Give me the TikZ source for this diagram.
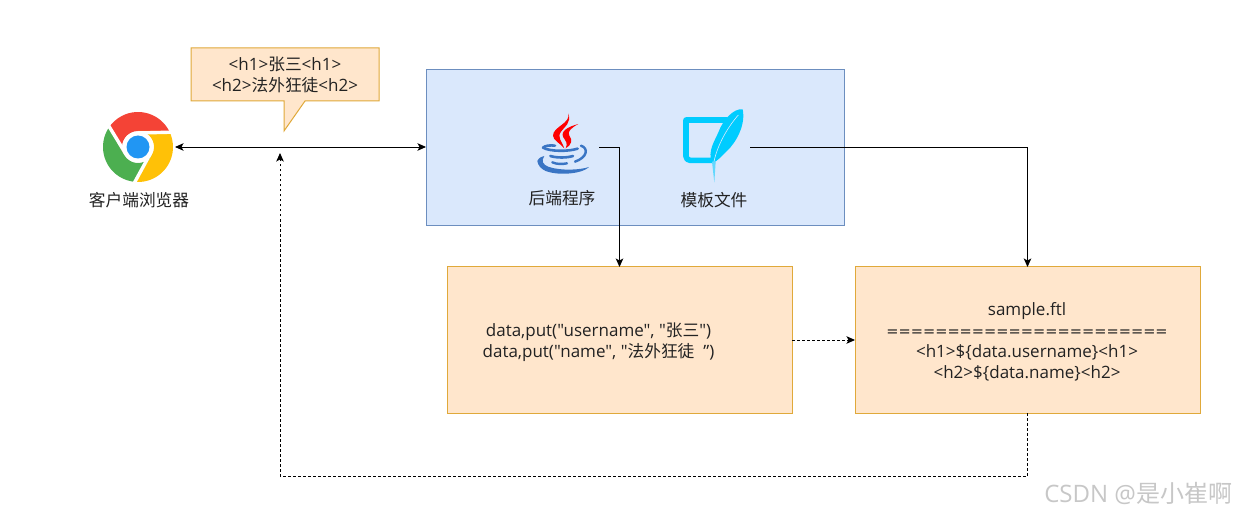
\documentclass[tikz,border=0pt]{standalone}
\usepackage{fontspec}
\newfontfamily\latinf{Open Sans}
\newfontfamily\cjk{Noto Sans CJK SC}
\newfontfamily\eqfont{DejaVu Sans}
\newcommand{\zh}[1]{{\cjk\fontsize{16.7}{21}\selectfont #1}}
\usetikzlibrary{arrows.meta}
\definecolor{orfill}{HTML}{FFE6CC}
\definecolor{orline}{HTML}{E0A93A}
\definecolor{blfill}{HTML}{DAE8FC}
\definecolor{blline}{HTML}{6C8EBF}
\definecolor{featherc}{HTML}{00CCFF}
\definecolor{javablue}{HTML}{3A75C4}
\definecolor{chromered}{HTML}{F44336}
\definecolor{chromegreen}{HTML}{4CAF50}
\definecolor{chromeyellow}{HTML}{FFC107}
\definecolor{chromeblue}{HTML}{2196F3}
\definecolor{txt}{HTML}{222222}
\tikzset{
  x=1pt,y=-1pt,
  every node/.style={font=\latinf\fontsize{17}{21}\selectfont,text=txt,inner sep=0pt,outer sep=0pt},
  panel/.style={draw=orline,fill=orfill,line width=1pt,anchor=north west},
  bluepanel/.style={draw=blline,fill=blfill,line width=.8pt,anchor=north west},
  icon/.style={minimum width=#1,minimum height=40pt},
  conn/.style={draw=black,line width=.9pt,-{Stealth[length=8.5pt,width=7.5pt,inset=2pt]}},
  dconn/.style={conn,dash pattern=on 2.5pt off 2.5pt},
  label/.style={align=center},
}
\begin{document}
\begin{tikzpicture}
\useasboundingbox (0,0) rectangle (1235,513);
\fill[white] (0,0) rectangle (1235,513);
% panels
\node[bluepanel,minimum width=418pt,minimum height=156pt] (backend) at (426,69) {};
\node[panel,minimum width=345pt,minimum height=146pt] (databox) at (447,267) {};
\node[panel,minimum width=345pt,minimum height=146pt] (sample) at (855,267) {};
% callout
\filldraw[orline,fill=orfill,line width=1pt,line join=miter] (191,48) -- (379,48) -- (379,101) -- (305,101) -- (284,131) -- (284,101) -- (191,101) -- cycle;
\node[label] (bubble) at (285,75) {<h1>\zh{张三}<h1>\\<h2>\zh{法外狂徒}<h2>};
% chrome icon
\begin{scope}[shift={(138,147)},y=1pt]
  \def\ro{35}\def\ri{16}
  \fill[chromered] (27.2:\ro) arc[start angle=27.2,end angle=147.2,radius=\ro] -- (210:\ri) arc[start angle=210,end angle=90,radius=\ri] -- cycle;
  \fill[chromegreen] (147.2:\ro) arc[start angle=147.2,end angle=267.2,radius=\ro] -- (330:\ri) arc[start angle=330,end angle=210,radius=\ri] -- cycle;
  \fill[chromeyellow] (267.2:\ro) arc[start angle=267.2,end angle=387.2,radius=\ro] -- (90:\ri) arc[start angle=90,end angle=-30,radius=\ri] -- cycle;
  \draw[white,line width=3.4pt] (23.6:\ro+2) -- (90:14) (143.6:\ro+2) -- (210:14) (263.6:\ro+2) -- (330:14);
  \fill[white] (0,0) circle[radius=15.5];
  \fill[chromeblue] (0,0) circle[radius=11.5];
\end{scope}
\node[icon=74pt] (chrome) at (138,147) {};
\node[label] (chromelabel) at (139,200) {\zh{客户端浏览器}};
% java icon (coordinates at 3x from 525,105)
\begin{scope}[shift={(525,105)},x=.3333pt,y=-.3333pt]
  \fill[red] (130,25) .. controls (138,55) and (84,65) .. (84,92) .. controls (84,105) and (105,115) .. (118,130) .. controls (112,110) and (95,98) .. (108,80) .. controls (118,65) and (140,55) .. (130,25) -- cycle;
  \fill[red] (160,57) .. controls (130,65) and (105,78) .. (115,97) .. controls (121,107) and (130,115) .. (122,130) .. controls (140,120) and (143,105) .. (133,92) .. controls (125,80) and (140,68) .. (160,57) -- cycle;
  \begin{scope}[javablue,line cap=round]
    \draw[line width=2.6pt] (54,128) .. controls (60,122) and (75,120) .. (90,122);
    \draw[line width=2.6pt] (54,128) .. controls (75,140) and (130,140) .. (158,131);
    \draw[line width=2.6pt] (76,153) .. controls (95,159) and (125,159) .. (144,153);
    \draw[line width=2.4pt] (82,172) .. controls (95,178) and (112,178) .. (126,175);
    \draw[line width=2.4pt] (168,122) .. controls (192,130) and (186,158) .. (150,170);
    \fill (37,168) .. controls (42,158) and (50,154) .. (58,153) .. controls (48,168) and (52,178) .. (72,186) .. controls (110,198) and (165,195) .. (192,186) .. controls (175,205) and (105,214) .. (62,198) .. controls (48,192) and (38,180) .. (37,168) -- cycle;
  \end{scope}
\end{scope}
\node[icon=64pt] (java) at (567,147) {};
\node[label] (javalabel) at (562,198) {\zh{后端程序}};
% feather icon (coordinates at 3x from 670,100)
\begin{scope}[shift={(670,100)},x=.3333pt,y=-.3333pt]
  \draw[featherc,line width=5.6pt,line join=round] (172,60) -- (48,60) [rounded corners=4pt] -- (48,181) -- (135,181);
  \fill[featherc] (218,28) .. controls (190,24) and (158,62) .. (146,95) .. controls (133,125) and (112,155) .. (126,187) .. controls (135,190) and (152,172) .. (172,152) .. controls (198,127) and (228,75) .. (218,28) -- cycle;
  \draw[blfill,line width=.6pt] (205,45) .. controls (170,85) and (140,140) .. (131,190);
  \fill[featherc!55!blfill] (126,185) -- (133,248) -- (137,185) -- cycle;
\end{scope}
\node[icon=74pt] (feather) at (713,147) {};
\node[label] (featherlabel) at (714,200) {\zh{模板文件}};
% box text
\node[label] (datatext) at (598.5,342) {data,put("username", "\zh{张三}")\\data,put("name", "\zh{法外狂徒}\hspace{9pt}”)};
\node[label] (sampletext) at (1027,341.5) {sample.ftl\\{\eqfont\fontsize{14.6}{21}\selectfont =======================}\\<h1>\$\{data.username\}<h1>\\<h2>\$\{data.name\}<h2>};
% connectors
\coordinate (retcorner) at (280,476);
\coordinate (retend) at (280,153);
\draw[conn,{Stealth[length=8.5pt,width=7.5pt,inset=2pt]}-{Stealth[length=8.5pt,width=7.5pt,inset=2pt]}] (chrome.east) -- (backend.west |- chrome.east);
\draw[conn] (java.east) -| (databox.north);
\draw[conn] (feather.east) -| (sample.north);
\draw[dconn] (databox.east) -- (sample.west);
\draw[dconn] (sample.south) |- (retcorner) -- (retend);
% watermark
\node[font=\latinf\fontsize{24}{26}\selectfont,text=black!22,anchor=east] (mark) at (1232,493) {CSDN @{\cjk 是小崔啊}};
\end{tikzpicture}
\end{document}
